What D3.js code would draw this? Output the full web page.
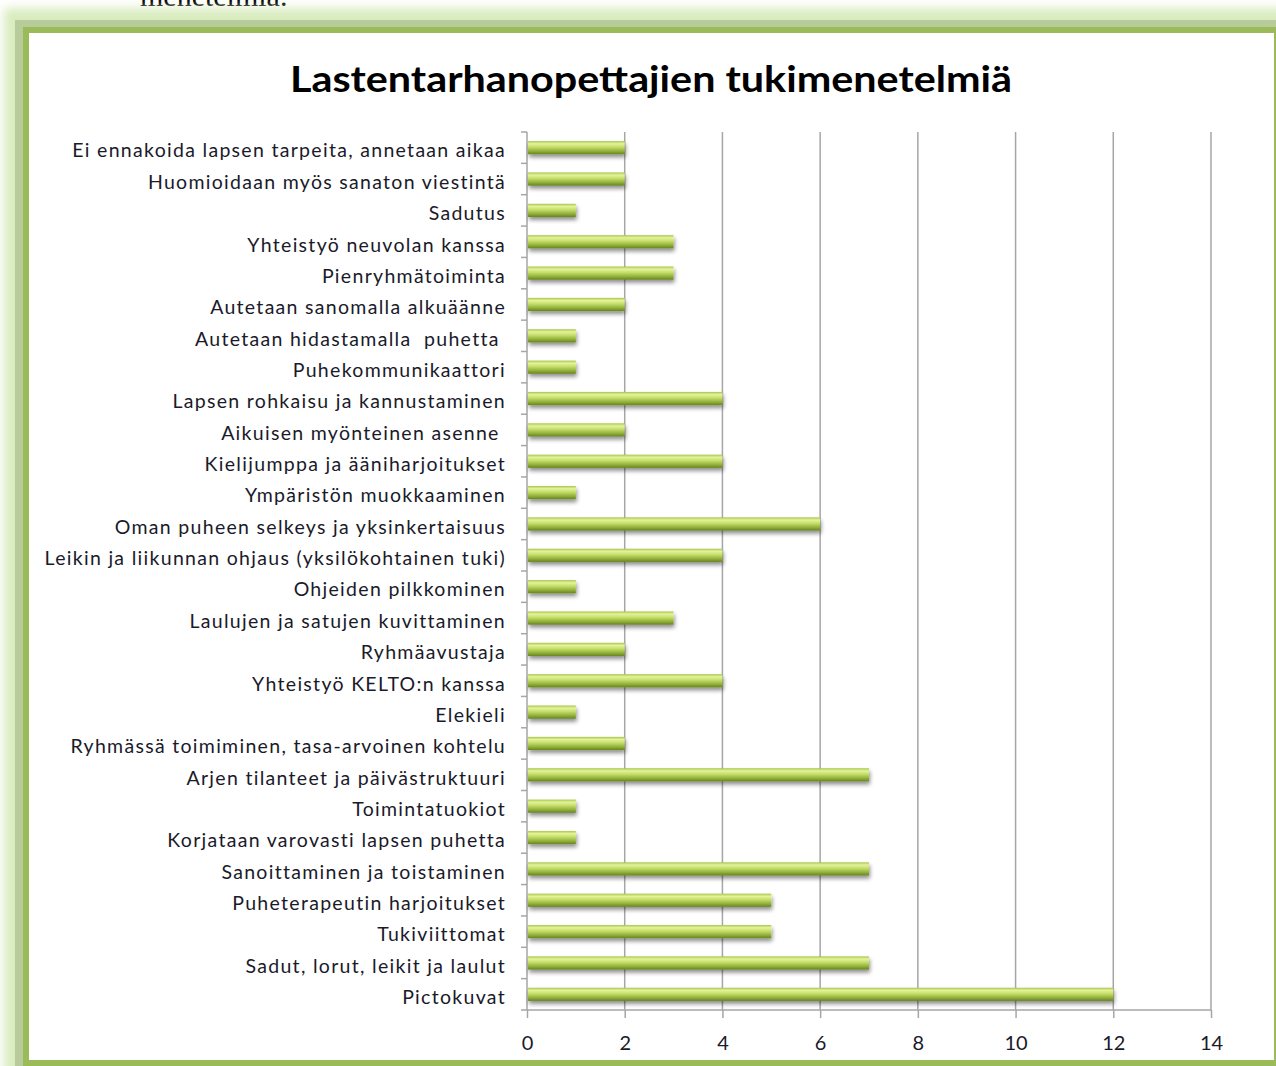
<!DOCTYPE html>
<html><head><meta charset="utf-8">
<script src="https://cdn.jsdelivr.net/npm/d3@7"></script>
<style>body{margin:0;background:#fff}svg{display:block}</style>
</head><body>
<script>
const categories = [
 "Ei ennakoida lapsen tarpeita, annetaan aikaa",
 "Huomioidaan myös sanaton viestintä",
 "Sadutus",
 "Yhteistyö neuvolan kanssa",
 "Pienryhmätoiminta",
 "Autetaan sanomalla alkuäänne",
 "Autetaan hidastamalla  puhetta ",
 "Puhekommunikaattori",
 "Lapsen rohkaisu ja kannustaminen",
 "Aikuisen myönteinen asenne ",
 "Kielijumppa ja ääniharjoitukset",
 "Ympäristön muokkaaminen",
 "Oman puheen selkeys ja yksinkertaisuus",
 "Leikin ja liikunnan ohjaus (yksilökohtainen tuki)",
 "Ohjeiden pilkkominen",
 "Laulujen ja satujen kuvittaminen",
 "Ryhmäavustaja",
 "Yhteistyö KELTO:n kanssa",
 "Elekieli",
 "Ryhmässä toimiminen, tasa-arvoinen kohtelu",
 "Arjen tilanteet ja päivästruktuuri",
 "Toimintatuokiot",
 "Korjataan varovasti lapsen puhetta",
 "Sanoittaminen ja toistaminen",
 "Puheterapeutin harjoitukset",
 "Tukiviittomat",
 "Sadut, lorut, leikit ja laulut",
 "Pictokuvat"
];
const values = [2,2,1,3,3,2,1,1,4,2,4,1,6,4,1,3,2,4,1,2,7,1,1,7,5,5,7,12];
const xTicks = [0,2,4,6,8,10,12,14];
const title = "Lastentarhanopettajien tukimenetelmiä";
const aboveText = "menetelmiä.";

const W = 1276, H = 1066;
const svg = d3.select("body").append("svg").attr("width", W).attr("height", H);
const defs = svg.append("defs");
defs.append("filter").attr("id","glow").attr("x","-10%").attr("y","-10%").attr("width","120%").attr("height","120%")
  .append("feGaussianBlur").attr("stdDeviation", 5);
const sh = defs.append("filter").attr("id","shadow").attr("x","-5%").attr("y","-50%").attr("width","115%").attr("height","250%");
sh.append("feGaussianBlur").attr("in","SourceAlpha").attr("stdDeviation",2).attr("result","b");
sh.append("feOffset").attr("in","b").attr("dx",1).attr("dy",3).attr("result","o");
sh.append("feComponentTransfer").attr("in","o").attr("result","o2").append("feFuncA").attr("type","linear").attr("slope",0.45);
const mg = sh.append("feMerge"); mg.append("feMergeNode").attr("in","o2"); mg.append("feMergeNode").attr("in","SourceGraphic");
const grad = defs.append("linearGradient").attr("id","barG").attr("x1",0).attr("y1",0).attr("x2",0).attr("y2",1);
[["0%","#a9c64c"],["20%","#e4f39a"],["45%","#c5de6a"],["75%","#94b23c"],["100%","#66841f"]]
  .forEach(([o,c]) => grad.append("stop").attr("offset",o).attr("stop-color",c));

// text above the frame (partially hidden, as in the source page)
svg.append("text").attr("x",140).attr("y",6).attr("font-family","Liberation Serif, serif")
  .attr("font-size",30).attr("fill","#000").text(aboveText);

// frame
svg.append("rect").attr("x",4).attr("y",8).attr("width",1320).attr("height",1120).attr("fill","#d9ecc0").attr("filter","url(#glow)");
svg.append("rect").attr("x",15).attr("y",20).attr("width",1320).attr("height",1100).attr("fill","#b7cb9b");
svg.append("rect").attr("x",23).attr("y",27).attr("width",1320).attr("height",1100).attr("fill","#9bbb59");
svg.append("rect").attr("x",29).attr("y",33).attr("width",1245).attr("height",1027).attr("fill","#fff");

// title
svg.append("text").attr("x",651).attr("y",92).attr("text-anchor","middle")
  .attr("font-family","Lato, Carlito, sans-serif").attr("font-weight","bold").attr("font-size",37)
  .attr("fill","#000").attr("textLength",722).attr("lengthAdjust","spacingAndGlyphs").text(title);

const pLeft = 527, pRight = 1211, pTop = 132, pBottom = 1010;
const x = d3.scaleLinear().domain([0,14]).range([pLeft,pRight]);
const y = d3.scaleBand().domain(categories).range([pTop,pBottom]).paddingInner(0.58).paddingOuter(0.29);

// gridlines
svg.append("g").selectAll("line").data(xTicks.filter(d=>d>0)).join("line")
  .attr("x1",d=>x(d)).attr("x2",d=>x(d)).attr("y1",pTop).attr("y2",pBottom)
  .attr("stroke","#a6a6a6").attr("stroke-width",1.5);

// x axis
const xAxis = d3.axisBottom(x).tickValues(xTicks).tickSize(8).tickPadding(18).tickFormat(d3.format("d"));
const gx = svg.append("g").attr("transform",`translate(0,${pBottom})`).call(xAxis);
gx.select(".domain").attr("stroke","#a6a6a6").attr("stroke-width",1.5).attr("d",`M${pLeft},0H${pRight}`);
gx.selectAll(".tick line").attr("stroke","#a6a6a6").attr("stroke-width",1.5);
gx.selectAll("text").attr("font-family","Lato, Carlito, sans-serif").attr("font-size",20).attr("fill","#1a1a2a");

// y axis
const bandStep = (pBottom-pTop)/categories.length;
const yAxis = d3.axisLeft(y).tickSize(0).tickPadding(21);
const gy = svg.append("g").attr("transform",`translate(${pLeft},0)`).call(yAxis);
gy.select(".domain").attr("stroke","#a6a6a6").attr("stroke-width",1.5).attr("d",`M0,${pTop}V${pBottom}`);
gy.selectAll("text").attr("font-family","Lato, Carlito, sans-serif").attr("font-size",19.5)
  .attr("dy","0.5em").attr("fill","#1a1a2a").attr("letter-spacing","1.3px").style("white-space","pre");
svg.append("g").selectAll("line").data(d3.range(categories.length+1)).join("line")
  .attr("x1",pLeft-6).attr("x2",pLeft).attr("y1",i=>pTop+i*bandStep).attr("y2",i=>pTop+i*bandStep)
  .attr("stroke","#a6a6a6").attr("stroke-width",1.5);

// bars
svg.append("g").selectAll("rect").data(values).join("rect")
  .attr("x",pLeft+1).attr("y",(d,i)=>y(categories[i]))
  .attr("width",d=>x(d)-pLeft-1).attr("height",y.bandwidth())
  .attr("fill","url(#barG)").attr("filter","url(#shadow)");
</script>
</body></html>
